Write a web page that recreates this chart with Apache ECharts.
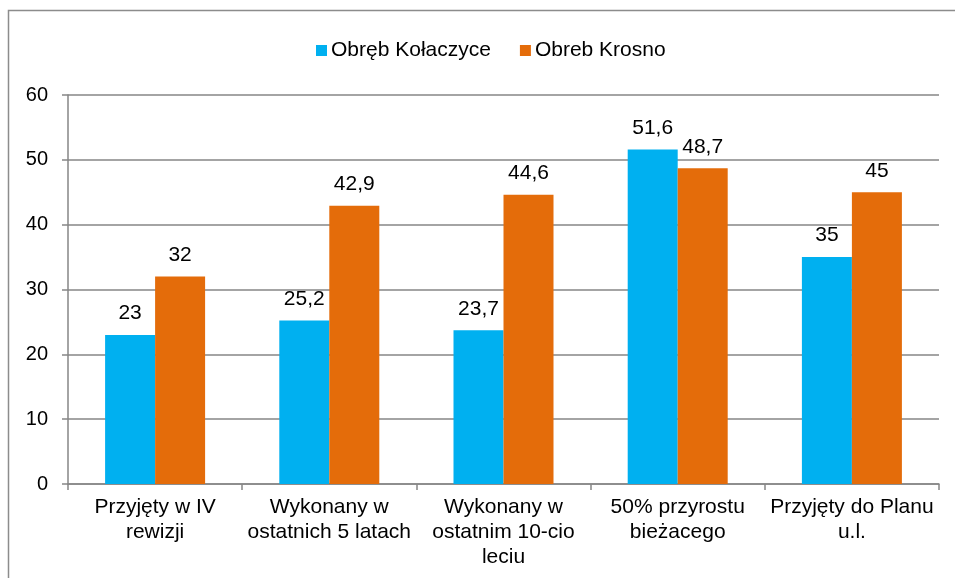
<!DOCTYPE html>
<html>
<head>
<meta charset="utf-8">
<script src="https://cdn.jsdelivr.net/npm/echarts@6/dist/echarts.min.js"></script>
<style>
html,body{margin:0;padding:0;background:#fff;}
#chart{width:955px;height:578px;}
</style>
</head>
<body>
<div id="chart"></div>
<script>
// Chart data
const categories = [
  'Przyjęty w IV\nrewizji',
  'Wykonany w\nostatnich 5 latach',
  'Wykonany w\nostatnim 10-cio\nleciu',
  '50% przyrostu\nbieżacego',
  'Przyjęty do Planu\nu.l.'
];
const seriesNames = ['Obręb Kołaczyce', 'Obreb Krosno'];
const kolaczyce = [23, 25.2, 23.7, 51.6, 35];
const krosno = [32, 42.9, 44.6, 48.7, 45];
const yTicks = [0, 10, 20, 30, 40, 50, 60];

const fontFamily = '"Liberation Sans", Arial, sans-serif';
const axisGray = '#868686';
const fs = 21;

const labelFmt = p => String(p.value).replace('.', ',');

const chart = echarts.init(document.getElementById('chart'), null, {renderer: 'canvas'});
chart.setOption({
  animation: false,
  textStyle: {fontFamily: fontFamily},
  graphic: [{
    type: 'rect',
    shape: {x: 8.5, y: 10.5, width: 1000, height: 1000},
    style: {fill: 'none', stroke: '#8c8c8c', lineWidth: 1.5},
    z: -1
  }],
  legend: {
    top: 35,
    left: 311,
    itemWidth: 11,
    itemHeight: 11,
    itemGap: 29,
    icon: 'rect',
    textStyle: {fontSize: fs, color: '#000', fontFamily: fontFamily, padding: [0, 0, 0, -1]},
    data: seriesNames
  },
  grid: {left: 68, right: 16, top: 95, bottom: 94, containLabel: false},
  xAxis: {
    type: 'category',
    data: categories,
    axisLine: {lineStyle: {color: axisGray, width: 1.5}},
    axisTick: {show: true, alignWithLabel: false, length: 6, lineStyle: {color: axisGray, width: 1.5}},
    axisLabel: {color: '#000', fontSize: fs, lineHeight: 25, margin: 11, interval: 0, fontFamily: fontFamily}
  },
  yAxis: {
    type: 'value',
    min: yTicks[0],
    max: yTicks[yTicks.length - 1],
    interval: 10,
    axisLine: {show: true, lineStyle: {color: axisGray, width: 1.5}},
    axisTick: {show: true, length: 6, lineStyle: {color: axisGray, width: 1.5}},
    splitLine: {lineStyle: {color: axisGray, width: 1.5}},
    axisLabel: {color: '#000', fontSize: 20, margin: 20, fontFamily: fontFamily}
  },
  series: [
    {
      name: seriesNames[0],
      type: 'bar',
      data: kolaczyce,
      barWidth: 50,
      barGap: '0%',
      itemStyle: {color: '#00b0f0'},
      label: {show: true, position: 'top', distance: 11, color: '#000', fontSize: fs, formatter: labelFmt, fontFamily: fontFamily}
    },
    {
      name: seriesNames[1],
      type: 'bar',
      data: krosno,
      barWidth: 50,
      barGap: '0%',
      itemStyle: {color: '#e46c0a'},
      label: {show: true, position: 'top', distance: 11, color: '#000', fontSize: fs, formatter: labelFmt, fontFamily: fontFamily}
    }
  ]
});
</script>
</body>
</html>
